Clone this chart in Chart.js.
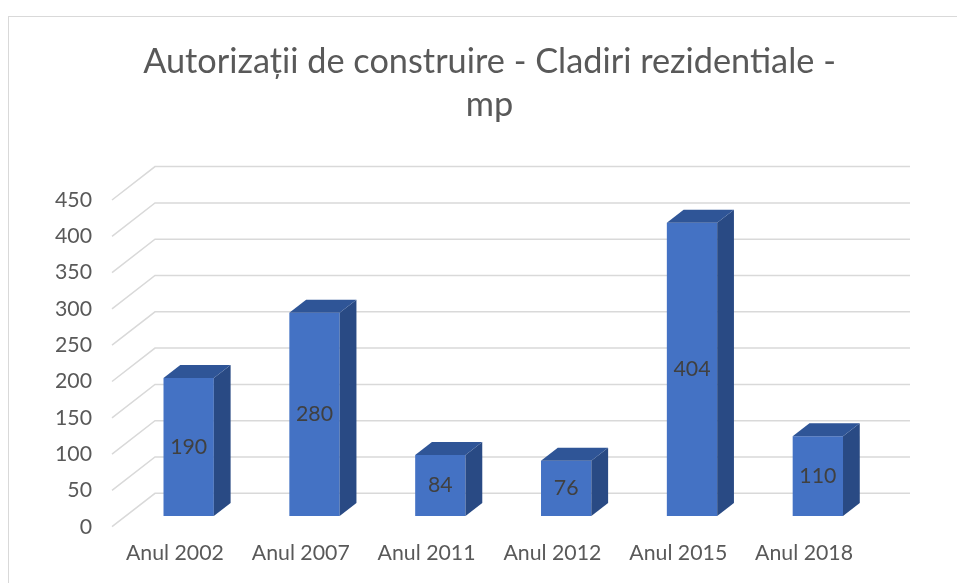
<!DOCTYPE html>
<html><head><meta charset="utf-8">
<script src="https://cdn.jsdelivr.net/npm/chart.js@4.4.1/dist/chart.umd.min.js"></script>
<style>html,body{margin:0;padding:0;background:#fff;}#wrap{width:957px;height:583px;}</style>
</head><body><div id="wrap"><canvas id="c" width="957" height="583"></canvas></div>
<script>
const titleLines = ['Autorizații de construire - Cladiri rezidentiale -', 'mp'];
const categories = ['Anul 2002', 'Anul 2007', 'Anul 2011', 'Anul 2012', 'Anul 2015', 'Anul 2018'];
const values = [190, 280, 84, 76, 404, 110];
const yTicks = [0, 50, 100, 150, 200, 250, 300, 350, 400, 450];

const FAMILY = "Lato, 'Open Sans', sans-serif";
function fitSize(text, weight, target) {
  const c = document.createElement('canvas').getContext('2d');
  c.font = weight + ' 100px ' + FAMILY;
  return 100 * target / c.measureText(text).width;
}
const labelSize = fitSize('Anul 2018', 400, 98);
const titleSize = fitSize(titleLines[0], 400, 693);

const DX = 43, DY = -33.4;          // full floor depth (oblique)
const BAR_FRONT = 0.32, BAR_DEPTH = 0.39;
const FRONT = '#4472C4', TOP = '#2F5597', SIDE = '#294A84';
const GRID = '#d9d9d9';

const threeD = {
  id: 'threeD',
  beforeDraw(chart) {
    const ctx = chart.ctx;
    ctx.save();
    ctx.strokeStyle = GRID; ctx.lineWidth = 1;
    ctx.strokeRect(8.5, 16.5, 3000, 3000);
    ctx.restore();
  },
  beforeDatasetsDraw(chart) {
    const {ctx, chartArea: a, scales: {y}} = chart;
    ctx.save();
    ctx.strokeStyle = GRID; ctx.lineWidth = 1.5;
    y.ticks.forEach(t => {
      const py = y.getPixelForValue(t.value);
      ctx.beginPath();
      ctx.moveTo(a.left, py);
      ctx.lineTo(a.left + DX, py + DY);
      ctx.lineTo(a.right + DX, py + DY);
      ctx.stroke();
    });
    ctx.restore();
    ctx.save();
    ctx.translate(DX * BAR_FRONT, DY * BAR_FRONT);
  },
  afterDatasetsDraw(chart) {
    const ctx = chart.ctx;
    const meta = chart.getDatasetMeta(0);
    const dx = DX * BAR_DEPTH, dy = DY * BAR_DEPTH;
    meta.data.forEach((bar, i) => {
      const {x, y, base, width} = bar.getProps(['x', 'y', 'base', 'width'], true);
      const x1 = x - width / 2, x2 = x + width / 2;
      ctx.fillStyle = SIDE;
      ctx.beginPath();
      ctx.moveTo(x2, y); ctx.lineTo(x2, base); ctx.lineTo(x2 + dx, base + dy); ctx.lineTo(x2 + dx, y + dy);
      ctx.closePath(); ctx.fill();
      ctx.fillStyle = TOP;
      ctx.beginPath();
      ctx.moveTo(x1, y); ctx.lineTo(x2, y); ctx.lineTo(x2 + dx, y + dy); ctx.lineTo(x1 + dx, y + dy);
      ctx.closePath(); ctx.fill();
      ctx.fillStyle = '#404040';
      ctx.font = '400 ' + labelSize + 'px ' + FAMILY;
      ctx.textAlign = 'center'; ctx.textBaseline = 'middle';
      ctx.fillText(String(values[i]), x, (y + base) / 2);
    });
    ctx.restore();
  }
};

new Chart(document.getElementById('c'), {
  type: 'bar',
  data: {
    labels: categories,
    datasets: [{
      data: values,
      backgroundColor: FRONT,
      borderWidth: 0,
      barPercentage: 0.4,
      categoryPercentage: 1.0
    }]
  },
  options: {
    responsive: false,
    animation: false,
    devicePixelRatio: 1,
    layout: {padding: {left: 22, right: 0, top: 0, bottom: 0}},
    plugins: {
      legend: {display: false},
      tooltip: {enabled: false},
      title: {
        display: true,
        text: titleLines,
        color: '#595959',
        font: {family: FAMILY, size: titleSize, weight: 400, lineHeight: '43px'},
        padding: {top: 40.5, bottom: 73.5}
      }
    },
    scales: {
      x: {
        grid: {display: false, drawTicks: false},
        border: {display: false},
        ticks: {color: '#595959', font: {family: FAMILY, size: labelSize}, padding: 14, maxRotation: 0, autoSkip: false},
        afterFit(s) { s.height = 56.3; }
      },
      y: {
        min: 0, max: 450,
        grid: {display: false, drawTicks: false},
        border: {display: false},
        afterBuildTicks(s) { s.ticks = yTicks.map(v => ({value: v})); },
        ticks: {color: '#595959', font: {family: FAMILY, size: labelSize}, padding: 20},
        afterFit(s) { s.width = 90; }
      },
      y2: {
        type: 'linear', position: 'right', display: true,
        grid: {display: false, drawTicks: false},
        border: {display: false},
        ticks: {display: false},
        afterFit(s) { s.width = 90; }
      }
    }
  },
  plugins: [threeD]
});
</script>
</body></html>
